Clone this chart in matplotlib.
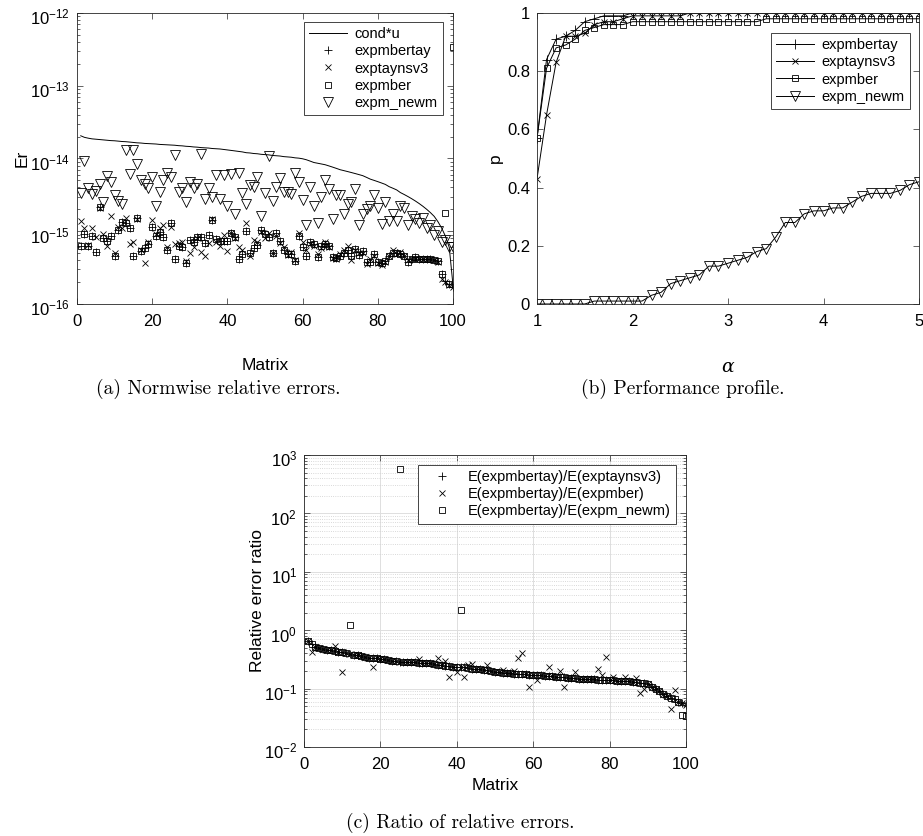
import numpy as np
import matplotlib
matplotlib.use('Agg')
from matplotlib import pyplot as plt
from matplotlib.ticker import LogLocator, NullFormatter, FixedLocator
from matplotlib.transforms import ScaledTranslation

plt.rcParams['font.family'] = ['Liberation Sans', 'DejaVu Sans']
plt.rcParams['mathtext.fontset'] = 'custom'
plt.rcParams['mathtext.rm'] = 'Liberation Sans'
plt.rcParams['mathtext.default'] = 'regular'
plt.rcParams['axes.unicode_minus'] = False

# ---- data, panel (a): errors in units of 1e-15 ----
matrix = np.arange(1, 101)

cond_u = [20.5, 19.5, 19.0, 18.6, 18.4, 18.2, 18.0, 17.8, 17.6, 17.5,
          17.3, 17.1, 17.0, 16.8, 16.6, 16.4, 16.3, 16.1, 16.0, 15.9,
          15.8, 15.6, 15.5, 15.4, 15.3, 15.2, 15.0, 14.9, 14.7, 14.6,
          14.4, 14.3, 14.1, 14.0, 13.9, 13.7, 13.6, 13.5, 13.3, 13.1,
          12.9, 12.7, 12.5, 12.3, 12.0, 11.9, 11.7, 11.6, 11.4, 11.3,
          11.2, 11.0, 10.9, 10.8, 10.6, 10.5, 10.4, 10.2, 10.1, 9.9,
          9.6, 9.2, 8.8, 8.6, 8.4, 8.2, 7.9, 7.6, 7.3, 7.0,
          6.8, 6.6, 6.4, 6.2, 6.0, 5.8, 5.5, 5.2, 5.0, 4.8,
          4.6, 4.4, 4.1, 3.9, 3.7, 3.4, 3.2, 3.0, 2.8, 2.6,
          2.4, 2.2, 2.0, 1.8, 1.6, 1.35, 1.1, 0.85, 0.6, 0.18]

err_expmbertay = [0.62, 0.93, 0.63, 0.85, 0.51, 2.15, 0.81, 0.73, 0.86, 0.45,
                  1.05, 1.35, 1.3, 1.1, 0.46, 1.5, 0.54, 0.58, 0.66, 1.15,
                  0.86, 0.98, 0.83, 0.56, 1.3, 0.41, 0.63, 0.61, 0.37, 0.75,
                  0.70, 0.83, 0.83, 0.68, 0.90, 1.42, 0.77, 0.73, 0.74, 0.74,
                  0.96, 0.83, 0.41, 0.49, 1.0, 0.5, 0.58, 0.65, 1.05, 0.93,
                  0.83, 0.5, 0.96, 0.73, 0.55, 0.49, 0.48, 0.39, 0.86, 0.61,
                  0.46, 0.70, 0.66, 0.44, 0.62, 0.67, 0.63, 0.44, 0.43, 0.46,
                  0.50, 0.55, 0.45, 0.57, 0.47, 0.54, 0.38, 0.38, 0.49, 0.38,
                  0.36, 0.39, 0.46, 0.50, 0.50, 0.49, 0.45, 0.38, 0.41, 0.44,
                  0.42, 0.42, 0.41, 0.41, 0.40, 0.39, 0.26, 0.21, 0.19, 0.17]

err_exptaynsv3 = [1.4, 1.1, 0.65, 1.1, 0.83, 2.1, 0.93, 0.63, 1.6, 0.5,
                  1.15, 1.1, 1.5, 0.66, 0.70, 1.45, 0.55, 0.37, 0.70, 1.42,
                  0.93, 1.1, 1.2, 0.61, 1.15, 0.66, 0.68, 0.72, 0.39, 0.50,
                  0.60, 0.80, 0.52, 0.46, 0.68, 1.45, 0.70, 0.63, 0.90, 0.53,
                  0.96, 0.80, 0.60, 0.55, 1.3, 0.45, 0.75, 0.72, 0.98, 0.80,
                  0.95, 0.50, 0.85, 0.68, 0.60, 0.47, 0.52, 0.40, 0.95, 0.70,
                  0.55, 0.66, 0.62, 0.48, 0.58, 0.70, 0.60, 0.43, 0.42, 0.48,
                  0.55, 0.62, 0.40, 0.55, 0.50, 0.50, 0.35, 0.42, 0.46, 0.36,
                  0.34, 0.38, 0.45, 0.55, 0.48, 0.52, 0.46, 0.40, 0.42, 0.42,
                  0.42, 0.41, 0.41, 0.42, 0.40, 0.38, 0.22, 0.20, 0.18, 0.17]

err_expmber = [0.62, 0.93, 0.63, 0.85, 0.51, 2.15, 0.81, 0.73, 0.86, 0.45,
               1.05, 1.35, 1.3, 1.1, 0.46, 1.5, 0.54, 0.58, 0.66, 1.15,
               0.86, 0.98, 0.83, 0.56, 1.3, 0.41, 0.63, 0.61, 0.37, 0.75,
               0.70, 0.83, 0.83, 0.68, 0.90, 1.42, 0.77, 0.73, 0.74, 0.74,
               0.96, 0.83, 0.41, 0.49, 1.0, 0.5, 0.58, 0.65, 1.05, 0.93,
               0.83, 0.5, 0.96, 0.73, 0.55, 0.49, 0.48, 0.39, 0.86, 0.61,
               0.46, 0.70, 0.66, 0.44, 0.62, 0.67, 0.63, 0.44, 0.43, 0.46,
               0.50, 0.55, 0.45, 0.57, 0.47, 0.54, 0.38, 0.38, 0.49, 0.38,
               0.36, 0.39, 0.46, 0.50, 0.50, 0.49, 0.45, 0.38, 0.41, 0.44,
               0.42, 0.42, 0.41, 0.41, 0.40, 0.39, 0.26, 1.8, 0.19, 340.0]

err_expm_newm = [3.4, 9.1, 3.9, 3.2, 3.6, 4.5, 2.5, 5.8, 4.8, 3.1,
                 2.6, 2.4, 13.0, 6.1, 13.0, 8.4, 5.1, 4.4, 3.9, 5.5,
                 2.2, 3.5, 5.1, 6.3, 5.6, 11.0, 3.5, 3.9, 2.5, 4.7,
                 3.9, 4.4, 11.5, 2.75, 3.9, 3.0, 6.0, 2.75, 6.0, 2.2,
                 6.1, 1.7, 6.3, 3.3, 2.4, 4.3, 4.1, 5.5, 1.6, 3.4,
                 10.7, 2.6, 4.0, 5.4, 3.5, 3.5, 3.2, 6.4, 4.7, 2.7,
                 1.2, 4.0, 2.2, 1.3, 3.0, 5.0, 3.8, 1.45, 3.1, 3.1,
                 1.75, 2.4, 2.5, 3.8, 1.2, 1.75, 2.0, 2.2, 3.1, 2.1,
                 1.25, 2.5, 1.4, 1.7, 1.4, 2.2, 2.1, 1.2, 1.6, 1.45,
                 1.3, 1.5, 1.1, 1.2, 0.9, 1.0, 0.7, 0.75, 0.6, 0.6]

# ---- data, panel (b): performance profile ----
alpha = np.arange(10, 51) / 10

p_expmbertay = [0.57, 0.84, 0.91, 0.92, 0.94, 0.97, 0.98, 0.99, 0.99, 0.99,
                1.0, 1.0, 1.0, 1.0, 1.0, 1.0, 1.0, 1.0, 1.0, 1.0,
                1.0, 1.0, 1.0, 1.0, 1.0, 1.0, 1.0, 1.0, 1.0, 1.0,
                1.0, 1.0, 1.0, 1.0, 1.0, 1.0, 1.0, 1.0, 1.0, 1.0, 1.0]
p_exptaynsv3 = [0.43, 0.65, 0.83, 0.92, 0.92, 0.93, 0.96, 0.97, 0.97, 0.98,
                0.99, 0.99, 0.99, 0.99, 0.99, 0.99, 1.0, 1.0, 1.0, 1.0,
                1.0, 1.0, 1.0, 1.0, 1.0, 1.0, 1.0, 1.0, 1.0, 1.0,
                1.0, 1.0, 1.0, 1.0, 1.0, 1.0, 1.0, 1.0, 1.0, 1.0, 1.0]
p_expmber = [0.57, 0.81, 0.88, 0.89, 0.91, 0.94, 0.95, 0.96, 0.96, 0.96,
             0.97, 0.97, 0.97, 0.97, 0.97, 0.97, 0.97, 0.97, 0.97, 0.97,
             0.97, 0.97, 0.97, 0.97, 0.98, 0.98, 0.98, 0.98, 0.98, 0.98,
             0.98, 0.98, 0.98, 0.98, 0.98, 0.98, 0.98, 0.98, 0.98, 0.98, 0.98]
p_expm_newm = [0.0, 0.0, 0.0, 0.0, 0.0, 0.0, 0.01, 0.01, 0.01, 0.01,
               0.01, 0.01, 0.03, 0.04, 0.07, 0.08, 0.09, 0.10, 0.13, 0.13,
               0.14, 0.15, 0.16, 0.18, 0.19, 0.23, 0.28, 0.28, 0.31, 0.32,
               0.32, 0.33, 0.33, 0.35, 0.37, 0.38, 0.38, 0.38, 0.39, 0.41, 0.42]

# ---- data, panel (c): error ratios ----
ratio_taynsv3 = [0.66, 0.58, 0.52, 0.49, 0.47, 0.46, 0.45, 0.44, 0.43, 0.42,
                 0.40, 0.39, 0.38, 0.37, 0.36, 0.35, 0.34, 0.335, 0.33, 0.32,
                 0.315, 0.31, 0.30, 0.295, 0.29, 0.288, 0.285, 0.283, 0.28, 0.278,
                 0.275, 0.272, 0.27, 0.265, 0.258, 0.25, 0.245, 0.24, 0.237, 0.235,
                 0.232, 0.23, 0.225, 0.22, 0.217, 0.213, 0.21, 0.205, 0.2, 0.195,
                 0.19, 0.188, 0.185, 0.183, 0.18, 0.178, 0.177, 0.175, 0.174, 0.172,
                 0.17, 0.168, 0.165, 0.163, 0.161, 0.159, 0.157, 0.155, 0.153, 0.151,
                 0.149, 0.147, 0.146, 0.145, 0.144, 0.143, 0.142, 0.141, 0.14, 0.139,
                 0.138, 0.137, 0.136, 0.135, 0.134, 0.132, 0.13, 0.127, 0.123, 0.118,
                 0.108, 0.098, 0.09, 0.082, 0.076, 0.07, 0.065, 0.06, 0.056, 0.052]
ratio_mber = [0.66, 0.43, 0.52, 0.49, 0.47, 0.46, 0.45, 0.53, 0.43, 0.19,
              0.40, 0.39, 0.38, 0.37, 0.36, 0.35, 0.34, 0.235, 0.33, 0.32,
              0.315, 0.31, 0.30, 0.295, 0.29, 0.288, 0.285, 0.283, 0.28, 0.32,
              0.275, 0.272, 0.27, 0.265, 0.33, 0.25, 0.30, 0.16, 0.237, 0.19,
              0.232, 0.16, 0.25, 0.26, 0.217, 0.213, 0.21, 0.25, 0.2, 0.195,
              0.19, 0.21, 0.185, 0.183, 0.2, 0.33, 0.40, 0.175, 0.107, 0.172,
              0.14, 0.168, 0.165, 0.23, 0.161, 0.159, 0.20, 0.107, 0.153, 0.151,
              0.19, 0.147, 0.146, 0.145, 0.144, 0.143, 0.22, 0.17, 0.35, 0.139,
              0.16, 0.137, 0.136, 0.16, 0.134, 0.132, 0.15, 0.085, 0.10, 0.118,
              0.108, 0.098, 0.09, 0.082, 0.076, 0.045, 0.094, 0.06, 0.056, 0.052]
ratio_newm = [0.66, 0.58, 0.52, 0.49, 0.47, 0.46, 0.45, 0.44, 0.43, 0.42,
              0.40, 1.25, 0.38, 0.37, 0.36, 0.35, 0.34, 0.335, 0.33, 0.32,
              0.315, 0.31, 0.30, 0.295, 580.0, 0.288, 0.285, 0.283, 0.28, 0.278,
              0.275, 0.272, 0.27, 0.265, 0.258, 0.25, 0.245, 0.24, 0.237, 0.235,
              2.2, 0.23, 0.225, 0.22, 0.217, 0.213, 0.21, 0.205, 0.2, 0.195,
              0.19, 0.188, 0.185, 0.183, 0.18, 0.178, 0.177, 0.175, 0.174, 0.172,
              0.17, 0.168, 0.165, 0.163, 0.161, 0.159, 0.157, 0.155, 0.153, 0.151,
              0.149, 0.147, 0.146, 0.145, 0.144, 0.143, 0.142, 0.141, 0.14, 0.139,
              0.138, 0.137, 0.136, 0.135, 0.134, 0.132, 0.13, 0.127, 0.123, 0.118,
              0.108, 0.098, 0.09, 0.082, 0.076, 0.07, 0.065, 0.06, 0.035, 0.034]

er_ticks = [1e-16, 1e-15, 1e-14, 1e-13, 1e-12]
ratio_ticks = [1e-2, 1e-1, 1e0, 1e1, 1e2, 1e3]

INK = '0.15'
TICK_FS = 12
LABEL_FS = 12.5
LEG_FS = 10.5


def matlab_axes(ax):
    ax.tick_params(which='both', direction='in', top=True, right=True,
                   color=INK, labelcolor='k', labelsize=TICK_FS, width=0.5)
    ax.tick_params(which='major', length=4)
    ax.tick_params(which='minor', length=2.2)
    ax.tick_params(axis='x', which='major', pad=7)
    ax.tick_params(axis='y', which='major', pad=5)
    for s in ax.spines.values():
        s.set_linewidth(0.6)
        s.set_color(INK)


def shift_log_labels(ax, fig):
    # MATLAB puts the base "10" on the tick, the exponent sits above it
    off = ScaledTranslation(0, -2.5 / 72, fig.dpi_scale_trans)
    for lab in ax.get_yticklabels():
        lab.set_transform(lab.get_transform() + off)


def matlab_legend(ax, anchor):
    leg = ax.legend(loc='upper right', bbox_to_anchor=anchor, borderaxespad=0,
                    fancybox=False, edgecolor=INK, framealpha=1, fontsize=LEG_FS,
                    handlelength=2.6, labelspacing=0.22, borderpad=0.35,
                    handletextpad=0.5)
    leg.get_frame().set_linewidth(0.6)
    return leg


fig = plt.figure(figsize=(9.23, 8.36), dpi=100)

# (a) normwise relative errors
ax1 = fig.add_axes([0.0834, 0.6364, 0.4074, 0.3481])
e = 1e-15
ax1.semilogy(matrix, np.array(cond_u) * e, '-', color='k', lw=0.7, label='cond*u')
ax1.semilogy(matrix, np.array(err_expmbertay) * e, '+', color='k', ms=6, mew=0.6,
             ls='none', label='expmbertay')
ax1.semilogy(matrix, np.array(err_exptaynsv3) * e, 'x', color='k', ms=4.5, mew=0.6,
             ls='none', label='exptaynsv3')
ax1.semilogy(matrix, np.array(err_expmber) * e, 's', color='k', mfc='none', ms=5,
             mew=0.6, ls='none', label='expmber')
ax1.semilogy(matrix, np.array(err_expm_newm) * e, 'v', color='k', mfc='none', ms=7,
             mew=0.6, ls='none', label='expm_newm')
ax1.set_xlim(0, 100)
ax1.set_ylim(1e-16, 1e-12)
ax1.set_xticks([0, 20, 40, 60, 80, 100])
ax1.yaxis.set_major_locator(FixedLocator(er_ticks))
ax1.yaxis.set_minor_locator(LogLocator(base=10, subs=np.arange(2, 10), numticks=10))
ax1.yaxis.set_minor_formatter(NullFormatter())
matlab_axes(ax1)
ax1.set_xlabel('Matrix', fontsize=LABEL_FS)
ax1.set_ylabel('Er', fontsize=LABEL_FS)
ax1.xaxis.set_label_coords(0.5, -0.185)
ax1.yaxis.set_label_coords(-0.127, 0.5)
matlab_legend(ax1, (0.973, 0.969))

# (b) performance profile
ax2 = fig.add_axes([0.5818, 0.6364, 0.4139, 0.3481])
ax2.plot(alpha, p_expmbertay, '-+', color='k', lw=0.7, ms=7, mew=0.6, label='expmbertay')
ax2.plot(alpha, p_exptaynsv3, '-x', color='k', lw=0.7, ms=5, mew=0.6, label='exptaynsv3')
ax2.plot(alpha, p_expmber, '-s', color='k', lw=0.7, ms=5, mfc='none', mew=0.6,
         label='expmber')
ax2.plot(alpha, p_expm_newm, '-v', color='k', lw=0.7, ms=7, mfc='none', mew=0.6,
         label='expm_newm')
ax2.set_xlim(1, 5)
ax2.set_ylim(0, 1)
ax2.set_xticks([1, 2, 3, 4, 5])
ax2.set_yticks([0, 0.2, 0.4, 0.6, 0.8, 1])
ax2.set_yticklabels(['0', '0.2', '0.4', '0.6', '0.8', '1'])
matlab_axes(ax2)
ax2.set_xlabel('α', fontsize=LABEL_FS + 1, family='DejaVu Serif', style='italic')
ax2.set_ylabel('p', fontsize=LABEL_FS)
ax2.xaxis.set_label_coords(0.5, -0.185)
ax2.yaxis.set_label_coords(-0.09, 0.5)
matlab_legend(ax2, (0.976, 0.931))

# (c) ratio of relative errors
ax3 = fig.add_axes([0.3294, 0.1065, 0.4139, 0.3493])
ax3.set_axisbelow(True)
ax3.grid(True, which='major', color='0.87', lw=0.7)
ax3.grid(True, which='minor', axis='y', color='0.8', lw=0.6, ls=':')
ax3.semilogy(matrix, ratio_taynsv3, '+', color='k', ms=6, mew=0.6, ls='none',
             label='E(expmbertay)/E(exptaynsv3)')
ax3.semilogy(matrix, ratio_mber, 'x', color='k', ms=5, mew=0.6, ls='none',
             label='E(expmbertay)/E(expmber)')
ax3.semilogy(matrix, ratio_newm, 's', color='k', mfc='none', ms=5, mew=0.6, ls='none',
             label='E(expmbertay)/E(expm_newm)')
ax3.set_xlim(0, 100)
ax3.set_ylim(1e-2, 1e3)
ax3.set_xticks([0, 20, 40, 60, 80, 100])
ax3.yaxis.set_major_locator(FixedLocator(ratio_ticks))
ax3.yaxis.set_minor_locator(LogLocator(base=10, subs=np.arange(2, 10), numticks=10))
ax3.yaxis.set_minor_formatter(NullFormatter())
matlab_axes(ax3)
ax3.set_xlabel('Matrix', fontsize=LABEL_FS)
ax3.set_ylabel('Relative error ratio', fontsize=LABEL_FS)
ax3.xaxis.set_label_coords(0.5, -0.106)
ax3.yaxis.set_label_coords(-0.102, 0.5)
matlab_legend(ax3, (0.974, 0.966))

fig.canvas.draw()
shift_log_labels(ax1, fig)
shift_log_labels(ax3, fig)

# subfigure captions
cap = dict(family=['cmr10', 'DejaVu Serif'], fontsize=14, ha='center', va='top')
fig.text(218 / 923, 1 - 379 / 836, '(a) Normwise relative errors.', **cap)
fig.text(683 / 923, 1 - 379 / 836, '(b) Performance profile.', **cap)
fig.text(460 / 923, 1 - 813 / 836, '(c) Ratio of relative errors.', **cap)

fig.savefig('out.png', dpi=100)
